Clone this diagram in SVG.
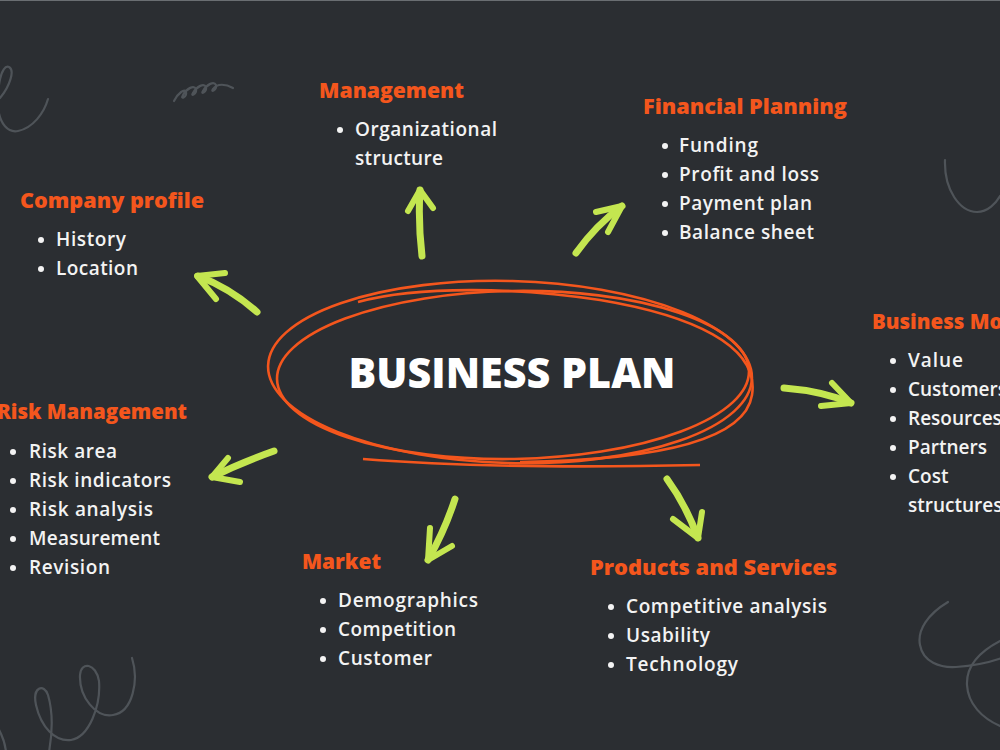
<svg xmlns="http://www.w3.org/2000/svg" width="1000" height="750" viewBox="0 0 1000 750">
<style>
.h{font-family:"Open Sans","Liberation Sans",sans-serif;font-weight:800;font-size:21px;fill:#f4561d}
.b{font-family:"Open Sans","Liberation Sans",sans-serif;font-weight:600;font-size:19px;fill:#f3f3f3}
.dot{fill:#f3f3f3}
.ar{fill:none;stroke:#c4e650;stroke-linecap:round;stroke-linejoin:round}
.sc{fill:none;stroke:#f4561d;stroke-width:2.6}
.dd{fill:none;stroke:#4f5459;stroke-width:2.2;stroke-linecap:round}
</style>
<rect width="1000" height="750" fill="#2b2e32"/>
<line x1="0" y1="0.5" x2="1000" y2="0.5" stroke="#6a6e72" stroke-width="1"/>
<g id="doodles">
<path class="dd" d="M0,98 C10,86 15,70 9,67 C1,64 -3,88 -2,108 C0,124 8,133 18,131 C33,128 44,113 48,99"/>
<path class="dd" d="M174,101 C178,93 185,88 186,92 C187,97 180,100 183,95 C187,88 194,85 196,89 C197,94 190,97 193,93 C197,86 204,83 206,87 C207,92 200,95 203,91 C207,84 214,81 216,85 C217,90 210,93 213,89 C217,83 226,84 233,88"/>
<path class="dd" d="M945,160 C944,190 960,212 977,212 C988,212 996,203 1000,196"/>
<path class="dd" d="M948,602 C928,614 917,630 920,645 C923,662 940,668 956,667 C972,666 988,663 1002,658"/>
<path class="dd" d="M1002,640 C982,650 966,665 967,685 C968,704 982,718 1000,726"/>
<path class="dd" d="M132,658 C139,680 133,712 113,715 C96,718 79,697 80,675 C81,661 96,663 99,681 C101,706 89,737 71,740 C55,742 41,727 36,705 C32,687 44,683 48,695 C53,712 52,735 49,752"/>
<path class="dd" d="M-2,728 C2,735 5,742 6,752"/>
</g>
<g id="center">
<ellipse class="sc" cx="510" cy="372" rx="242" ry="91" transform="rotate(1.5 510 372)"/>
<ellipse class="sc" cx="513" cy="375" rx="236" ry="84" transform="rotate(-1 513 375)"/>
<path class="sc" d="M358,302 C420,285 520,288 600,300 C690,315 760,345 752,395 C745,440 660,460 520,462"/>
<path class="sc" d="M363,459 C450,466 560,468 700,465"/>
<text x="512" y="388" text-anchor="middle" font-family="'Open Sans','Liberation Sans',sans-serif" font-weight="800" font-size="42" fill="#ffffff" textLength="327" lengthAdjust="spacingAndGlyphs">BUSINESS PLAN</text>
</g>
<g id="connectors">
<path class="ar" stroke-width="7" d="M257,312 Q230,288 198,276"/><path class="ar" stroke-width="6" d="M225,273 L197,276 L216,299"/>
<path class="ar" stroke-width="7" d="M422,256 Q418,222 420,190"/><path class="ar" stroke-width="6" d="M408,211 L420,190 L433,208"/>
<path class="ar" stroke-width="7" d="M576,253 Q596,225 622,206"/><path class="ar" stroke-width="6" d="M596,212 L622,206 L608,232"/>
<path class="ar" stroke-width="7" d="M784,388 Q822,391 851,403"/><path class="ar" stroke-width="6" d="M832,383 L851,403 L821,406"/>
<path class="ar" stroke-width="7" d="M455,499 Q445,530 428,560"/><path class="ar" stroke-width="6" d="M430,528 L428,560 L452,546"/>
<path class="ar" stroke-width="7" d="M667,479 Q686,505 698,538"/><path class="ar" stroke-width="6" d="M673,519 L698,538 L702,512"/>
<path class="ar" stroke-width="7" d="M274,451 Q240,463 212,477"/><path class="ar" stroke-width="6" d="M228,458 L212,477 L240,482"/>
</g>
<g id="management">
<text class="h" x="319" y="98" textLength="145" lengthAdjust="spacingAndGlyphs">Management</text>
<circle class="dot" cx="340" cy="130" r="3"/>
<text class="b" x="355" y="136" textLength="142">Organizational</text>
<text class="b" x="355" y="165" textLength="88">structure</text>
</g>
<g id="financial">
<text class="h" x="643" y="114" textLength="204" lengthAdjust="spacingAndGlyphs">Financial Planning</text>
<circle class="dot" cx="665" cy="146" r="3"/><text class="b" x="679" y="152" textLength="79">Funding</text>
<circle class="dot" cx="665" cy="175" r="3"/><text class="b" x="679" y="181" textLength="140">Profit and loss</text>
<circle class="dot" cx="665" cy="204" r="3"/><text class="b" x="679" y="210" textLength="133">Payment plan</text>
<circle class="dot" cx="665" cy="233" r="3"/><text class="b" x="679" y="239" textLength="135">Balance sheet</text>
</g>
<g id="company">
<text class="h" x="20" y="208" textLength="184" lengthAdjust="spacingAndGlyphs">Company profile</text>
<circle class="dot" cx="41" cy="240" r="3"/><text class="b" x="56" y="246" textLength="70">History</text>
<circle class="dot" cx="41" cy="269" r="3"/><text class="b" x="56" y="275" textLength="82">Location</text>
</g>
<g id="business-model">
<text class="h" x="872" y="329" textLength="163" lengthAdjust="spacingAndGlyphs">Business Model</text>
<circle class="dot" cx="893" cy="361" r="3"/><text class="b" x="908" y="367" textLength="55">Value</text>
<circle class="dot" cx="893" cy="390" r="3"/><text class="b" x="908" y="396">Customers</text>
<circle class="dot" cx="893" cy="419" r="3"/><text class="b" x="908" y="425">Resources</text>
<circle class="dot" cx="893" cy="448" r="3"/><text class="b" x="908" y="454">Partners</text>
<circle class="dot" cx="893" cy="477" r="3"/><text class="b" x="908" y="483">Cost</text>
<text class="b" x="908" y="512">structures</text>
</g>
<g id="risk">
<text class="h" x="-3" y="419" textLength="190" lengthAdjust="spacingAndGlyphs">Risk Management</text>
<circle class="dot" cx="13" cy="452" r="3"/><text class="b" x="29" y="458" textLength="88">Risk area</text>
<circle class="dot" cx="13" cy="481" r="3"/><text class="b" x="29" y="487" textLength="142">Risk indicators</text>
<circle class="dot" cx="13" cy="510" r="3"/><text class="b" x="29" y="516" textLength="124">Risk analysis</text>
<circle class="dot" cx="13" cy="539" r="3"/><text class="b" x="29" y="545" textLength="131">Measurement</text>
<circle class="dot" cx="13" cy="568" r="3"/><text class="b" x="29" y="574" textLength="81">Revision</text>
</g>
<g id="market">
<text class="h" x="302" y="569" textLength="79" lengthAdjust="spacingAndGlyphs">Market</text>
<circle class="dot" cx="323" cy="601" r="3"/><text class="b" x="338" y="607" textLength="140">Demographics</text>
<circle class="dot" cx="323" cy="630" r="3"/><text class="b" x="338" y="636" textLength="118">Competition</text>
<circle class="dot" cx="323" cy="659" r="3"/><text class="b" x="338" y="665" textLength="94">Customer</text>
</g>
<g id="products">
<text class="h" x="590" y="575" textLength="247" lengthAdjust="spacingAndGlyphs">Products and Services</text>
<circle class="dot" cx="611" cy="607" r="3"/><text class="b" x="626" y="613" textLength="201">Competitive analysis</text>
<circle class="dot" cx="611" cy="636" r="3"/><text class="b" x="626" y="642" textLength="84">Usability</text>
<circle class="dot" cx="611" cy="665" r="3"/><text class="b" x="626" y="671" textLength="112">Technology</text>
</g>
</svg>
